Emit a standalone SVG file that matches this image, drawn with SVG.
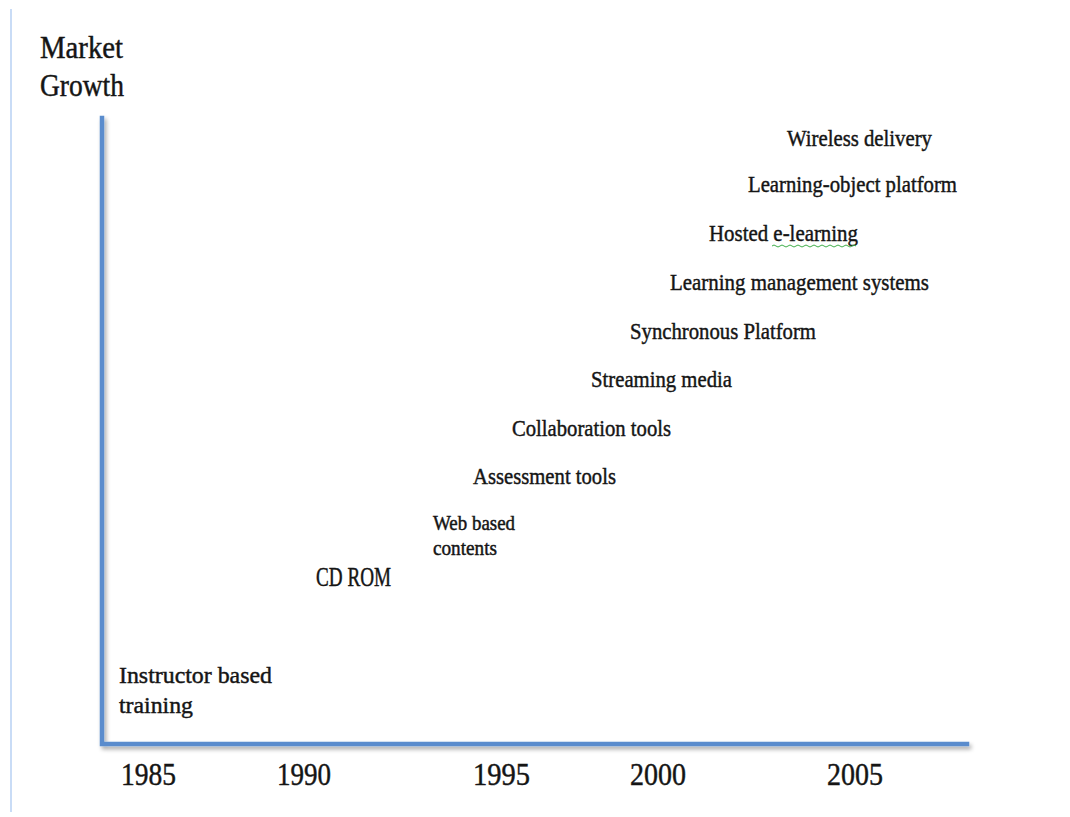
<svg xmlns="http://www.w3.org/2000/svg" width="1070" height="817" viewBox="0 0 1070 817">
<style>
  text { font-family: "Liberation Serif", "DejaVu Serif", serif; fill: #151515; stroke: #151515; stroke-width: 0.45; }
  .lbl { font-size: 24px; }
  .yr { font-size: 32px; }
  .ttl { font-size: 31px; }
  .axis { stroke: #5a8ccd; stroke-width: 4.5; fill: none; stroke-linecap: square; }
</style>
<defs>
  <filter id="sh" x="-10%" y="-10%" width="120%" height="120%">
    <feGaussianBlur in="SourceAlpha" stdDeviation="2"/>
    <feOffset dx="2" dy="3" result="b"/>
    <feComponentTransfer><feFuncA type="linear" slope="0.35"/></feComponentTransfer>
    <feMerge><feMergeNode/><feMergeNode in="SourceGraphic"/></feMerge>
  </filter>
</defs>
<rect width="1070" height="817" fill="#ffffff"/>
<line x1="11" y1="9" x2="11" y2="812" stroke="#c9dcf6" stroke-width="2"/>
<g id="axes" filter="url(#sh)">
  <path class="axis" d="M102,118 V744 H967"/>
</g>
<g id="title">
  <text class="ttl" x="40" y="58" textLength="83" lengthAdjust="spacingAndGlyphs">Market</text>
  <text class="ttl" x="40" y="96" textLength="84" lengthAdjust="spacingAndGlyphs">Growth</text>
</g>
<g id="years">
  <text class="yr" x="121" y="785" textLength="55" lengthAdjust="spacingAndGlyphs">1985</text>
  <text class="yr" x="277" y="785" textLength="54" lengthAdjust="spacingAndGlyphs">1990</text>
  <text class="yr" x="473" y="785" textLength="57" lengthAdjust="spacingAndGlyphs">1995</text>
  <text class="yr" x="630" y="785" textLength="56" lengthAdjust="spacingAndGlyphs">2000</text>
  <text class="yr" x="827" y="785" textLength="56" lengthAdjust="spacingAndGlyphs">2005</text>
</g>
<g id="instructor">
  <text class="lbl" x="119" y="683" textLength="153" lengthAdjust="spacingAndGlyphs">Instructor based</text>
  <text class="lbl" x="119" y="713" textLength="74" lengthAdjust="spacingAndGlyphs">training</text>
</g>
<g id="cdrom">
  <text x="316" y="586" style="font-size:27px" textLength="75" lengthAdjust="spacingAndGlyphs">CD ROM</text>
</g>
<g id="web">
  <text x="433" y="530" style="font-size:20px" textLength="82" lengthAdjust="spacingAndGlyphs">Web based</text>
  <text x="433" y="555" style="font-size:20px" textLength="64" lengthAdjust="spacingAndGlyphs">contents</text>
</g>
<g id="assessment"><text class="lbl" x="473" y="484" textLength="143" lengthAdjust="spacingAndGlyphs">Assessment tools</text></g>
<g id="collaboration"><text class="lbl" x="512" y="436" textLength="159" lengthAdjust="spacingAndGlyphs">Collaboration tools</text></g>
<g id="streaming"><text class="lbl" x="591" y="387" textLength="141" lengthAdjust="spacingAndGlyphs">Streaming media</text></g>
<g id="synchronous"><text class="lbl" x="630" y="339" textLength="186" lengthAdjust="spacingAndGlyphs">Synchronous Platform</text></g>
<g id="lms"><text class="lbl" x="670" y="290" textLength="259" lengthAdjust="spacingAndGlyphs">Learning management systems</text></g>
<g id="hosted">
  <text class="lbl" x="709" y="241" textLength="149" lengthAdjust="spacingAndGlyphs">Hosted e-learning</text>
  <path d="M772,246 q2,-2 4,0 t4,0 t4,0 t4,0 t4,0 t4,0 t4,0 t4,0 t4,0 t4,0 t4,0 t4,0 t4,0 t4,0 t4,0 t4,0 t4,0 t4,0 t4,0 t4,0 t4,0" fill="none" stroke="#3fae4a" stroke-width="1"/>
</g>
<g id="learning-object"><text class="lbl" x="748" y="192" textLength="209" lengthAdjust="spacingAndGlyphs">Learning-object platform</text></g>
<g id="wireless"><text class="lbl" x="787" y="146" textLength="145" lengthAdjust="spacingAndGlyphs">Wireless delivery</text></g>
</svg>
